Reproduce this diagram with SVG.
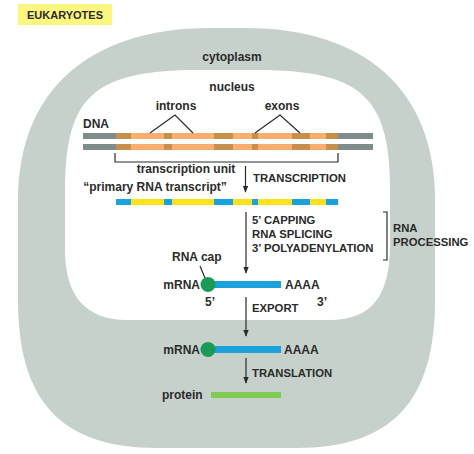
<svg xmlns="http://www.w3.org/2000/svg" width="474" height="454" viewBox="0 0 474 454">
<style>
text{font-family:"Liberation Sans",Arial,sans-serif;font-weight:bold;fill:#2b2b2b}
.lc{font-size:12px}
.uc{font-size:11.3px}
.ln{stroke:#2b2b2b;stroke-width:1.2;fill:none}
.ex{fill:#c68f4d}
.bl{fill:#1ba1dc}
</style>
<defs>
<marker id="ah" viewBox="0 0 10 10" refX="9" refY="5" markerWidth="7" markerHeight="7" markerUnits="userSpaceOnUse" orient="auto">
<path d="M0,1 L10,5 L0,9 Z" fill="#2b2b2b"/>
</marker>
</defs>
<rect width="474" height="454" fill="#fff"/>
<g id="label">
<rect x="18" y="4" width="94" height="21" fill="#fbf67f"/>
<text x="27" y="19" style="font-size:11px">EUKARYOTES</text>
</g>
<g id="cytoplasm">
<path d="M18,200 C18,90 90,28 210,28 L245,28 C365,28 435,90 435,200 L435,300 C435,400 393,448 296,448 L157,448 C60,448 18,400 18,300 Z" fill="#c6d1cc"/>
<text x="232" y="61" class="lc" text-anchor="middle">cytoplasm</text>
</g>
<g id="nucleus">
<path d="M65,190 C65,95 95,70 200,70 L255,70 C360,70 390,95 390,190 L390,245 C390,295 372,320 330,320 L127,320 C85,320 65,295 65,250 Z" fill="#fff"/>
<text x="232" y="91" class="lc" text-anchor="middle">nucleus</text>
</g>
<g id="dna">
<text x="83" y="128" class="lc">DNA</text>
<text x="176" y="110" class="lc" text-anchor="middle">introns</text>
<text x="282" y="110" class="lc" text-anchor="middle">exons</text>
<rect x="83" y="133" width="290" height="6" fill="#7f8c8c"/>
<rect x="83" y="144" width="290" height="6" fill="#7f8c8c"/>
<rect x="116" y="133" width="222" height="6" fill="#f9ae6f"/>
<rect x="116" y="144" width="222" height="6" fill="#f9ae6f"/>
<g class="ex">
<rect x="116" y="133" width="15" height="6"/><rect x="164" y="133" width="8" height="6"/><rect x="214" y="133" width="19" height="6"/><rect x="252" y="133" width="6" height="6"/><rect x="292" y="133" width="18" height="6"/><rect x="326" y="133" width="12" height="6"/>
<rect x="116" y="144" width="15" height="6"/><rect x="164" y="144" width="8" height="6"/><rect x="214" y="144" width="19" height="6"/><rect x="252" y="144" width="6" height="6"/><rect x="292" y="144" width="18" height="6"/><rect x="326" y="144" width="12" height="6"/>
</g>
<path class="ln" d="M150,133 L175,115 L193,133 M255,133 L280,115 L300,133"/>
<path class="ln" d="M115,153 L115,162 L338,162 L338,153"/>
<text x="186" y="173" class="lc" text-anchor="middle">transcription unit</text>
</g>
<g id="primary">
<text x="155" y="191" class="lc" text-anchor="middle">“primary RNA transcript”</text>
<rect x="116" y="199" width="222" height="6" fill="#fbe21c"/>
<g class="bl">
<rect x="116" y="199" width="15" height="6"/><rect x="164" y="199" width="8" height="6"/><rect x="214" y="199" width="19" height="6"/><rect x="252" y="199" width="6" height="6"/><rect x="292" y="199" width="18" height="6"/><rect x="326" y="199" width="12" height="6"/>
</g>
</g>
<g id="processing">
<text x="252" y="224" class="uc">5’ CAPPING</text>
<text x="252" y="238" class="uc">RNA SPLICING</text>
<text x="252" y="252" class="uc">3’ POLYADENYLATION</text>
<path class="ln" d="M383,212 L387,212 L387,260 L383,260"/>
<text x="393" y="232" class="uc">RNA</text>
<text x="393" y="246" class="uc">PROCESSING</text>
</g>
<g id="mrna-nuclear">
<text x="172" y="261" class="lc">RNA cap</text>
<path class="ln" d="M200,266 L205,278"/>
<rect x="210" y="281" width="71" height="7" class="bl"/>
<circle cx="208" cy="284.5" r="7.5" fill="#1a9a55"/>
<text x="200" y="289" class="lc" text-anchor="end">mRNA</text>
<text x="285" y="289" class="lc">AAAA</text>
<text x="205" y="306" class="lc">5’</text>
<text x="317" y="306" class="lc">3’</text>
</g>
<g id="mrna-cyto">
<rect x="210" y="346" width="71" height="7" class="bl"/>
<circle cx="208" cy="349.5" r="7.5" fill="#1a9a55"/>
<text x="200" y="354" class="lc" text-anchor="end">mRNA</text>
<text x="284" y="354" class="lc">AAAA</text>
</g>
<g id="protein">
<text x="162" y="399" class="lc">protein</text>
<rect x="211" y="392" width="70" height="6" fill="#80cc52"/>
</g>
<g id="connectors">
<line class="ln" x1="245.5" y1="166" x2="245.5" y2="192" marker-end="url(#ah)"/>
<text x="253" y="182" class="uc">TRANSCRIPTION</text>
<line class="ln" x1="246" y1="212" x2="246" y2="273" marker-end="url(#ah)"/>
<line class="ln" x1="246" y1="297" x2="246" y2="336" marker-end="url(#ah)"/>
<text x="252" y="312" class="uc">EXPORT</text>
<line class="ln" x1="246" y1="358" x2="246" y2="383" marker-end="url(#ah)"/>
<text x="252" y="377" class="uc">TRANSLATION</text>
</g>
</svg>
